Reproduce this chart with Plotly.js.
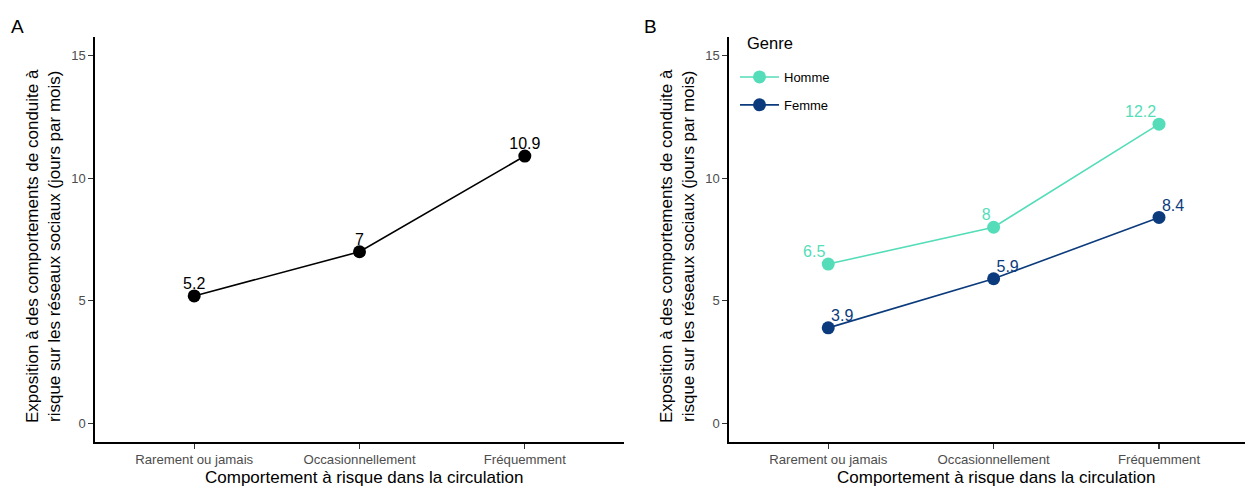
<!DOCTYPE html>
<html><head><meta charset="utf-8">
<script src="https://cdn.plot.ly/plotly-3.0.1.min.js"></script>
<style>html,body{margin:0;padding:0;background:#fff}#chart{width:1245px;height:488px}</style>
</head><body><div id="chart"></div>
<script>
const categories = ["Rarement ou jamais", "Occasionnellement", "Fréquemment"];
const overall = [5.2, 7.0, 10.9];
const overallLabels = ["5.2", "7", "10.9"];
const homme = [6.5, 8.0, 12.2];
const hommeLabels = ["6.5", "8", "12.2"];
const femme = [3.9, 5.9, 8.4];
const femmeLabels = ["3.9", "5.9", "8.4"];
const yTicks = [0, 5, 10, 15];

const FONT = "Liberation Sans, Arial, sans-serif";
const cH = "#55DDB9", cF = "#0B3B7C";

function lineTrace(y, color, name, xa, ya, show) {
  return {x: categories, y: y, name: name, legendgroup: name, mode: "lines+markers",
    line: {color: color, width: 1.6}, marker: {color: color, size: 13},
    xaxis: xa, yaxis: ya, showlegend: show, cliponaxis: false};
}
function textTrace(y, labels, color, pos, xa, ya) {
  return {x: categories, y: y, text: labels, mode: "markers+text", textposition: pos,
    textfont: {size: 16, color: color, family: FONT}, marker: {size: 3, color: "rgba(0,0,0,0)"},
    xaxis: xa, yaxis: ya, showlegend: false, cliponaxis: false, hoverinfo: "skip"};
}

const traces = [
  lineTrace(overall, "#000", "Ensemble", "x", "y", false),
  lineTrace(homme, cH, "Homme", "x2", "y2", true),
  lineTrace(femme, cF, "Femme", "x2", "y2", true),
  textTrace(overall, overallLabels, "#000", "top center", "x", "y"),
  textTrace(homme, hommeLabels, cH, "top left", "x2", "y2"),
  textTrace(femme, femmeLabels, cF, "top right", "x2", "y2")
];

const ydom = [1 - 442/488, 1 - 37/488];
function xa(dom, anchor, range) {
  return {domain: dom, anchor: anchor, type: "category", categoryarray: categories, range: range,
    showgrid: false, zeroline: false, showline: true, linecolor: "#000", linewidth: 1.6,
    ticks: "outside", ticklen: 5, tickwidth: 1.2, tickcolor: "#333",
    tickfont: {size: 13.2, color: "#4d4d4d", family: FONT}, fixedrange: true};
}
function ya(anchor) {
  return {domain: ydom, anchor: anchor, range: [-0.75, 15.75], tickvals: yTicks,
    showgrid: false, zeroline: false, showline: true, linecolor: "#000", linewidth: 1.6,
    ticks: "outside", ticklen: 5, tickwidth: 1.2, tickcolor: "#333",
    tickfont: {size: 13, color: "#4d4d4d", family: FONT}, fixedrange: true};
}
const ytitle = "Exposition à des comportements de conduite à<br>risque sur les réseaux sociaux (jours par mois)";
const xtitle = "Comportement à risque dans la circulation";
function px(v) { return v / 1245; }
function py(v) { return 1 - v / 488; }
function ann(text, x, y, size, extra) {
  return Object.assign({text: text, x: px(x), y: py(y), xref: "paper", yref: "paper", showarrow: false,
    xanchor: "center", yanchor: "middle", font: {size: size, color: "#000", family: FONT}}, extra || {});
}

const layout = {
  width: 1245, height: 488, margin: {l: 0, r: 0, t: 0, b: 0},
  paper_bgcolor: "#fff", plot_bgcolor: "#fff", font: {family: FONT},
  xaxis: xa([95/1245, 624/1245], "y", [-0.6, 2.6]), yaxis: ya("x"),
  xaxis2: xa([729/1245, 1], "y2", [-0.6, 2.52]), yaxis2: ya("x2"),
  showlegend: true,
  legend: {x: px(735), y: py(62), xanchor: "left", yanchor: "top", bgcolor: "rgba(0,0,0,0)",
    font: {size: 13, color: "#000", family: FONT}, tracegroupgap: 8, traceorder: "grouped", itemwidth: 39},
  annotations: [
    ann("A", 17, 26, 19),
    ann("B", 650, 26, 19),
    ann("Genre", 745, 43, 16.5, {xanchor: "left"}),
    ann(ytitle, 44, 246, 17, {textangle: -90}),
    ann(ytitle, 678, 246, 17, {textangle: -90}),
    ann(xtitle, 364, 477, 17),
    ann(xtitle, 996, 477, 17)
  ]
};
Plotly.newPlot("chart", traces, layout, {staticPlot: true, displayModeBar: false});
</script></body></html>
